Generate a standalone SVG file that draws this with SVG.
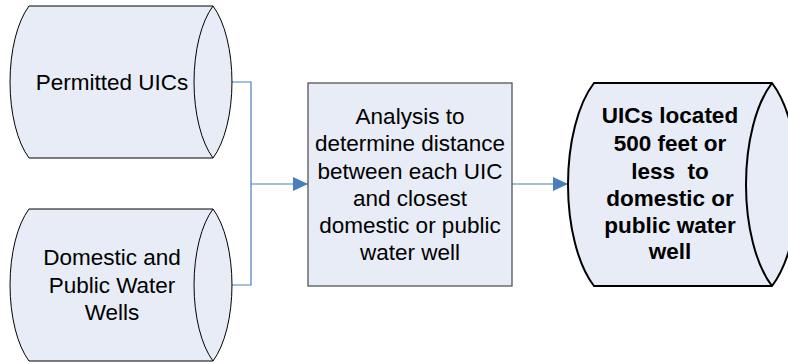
<svg xmlns="http://www.w3.org/2000/svg" width="788" height="362" viewBox="0 0 788 362">
<style>
.cyl{fill:#E7ECF6;stroke:#000;stroke-width:1}
.cylb{fill:#E7ECF6;stroke:#000;stroke-width:2}
.box{fill:#E7ECF6;stroke:#555;stroke-width:1.3}
.conn{fill:none;stroke:#4A7EBB;stroke-width:1.2}
.t{font-family:"Liberation Sans",Arial,sans-serif;font-size:22.5px;fill:#000;text-anchor:middle}
.tb{font-family:"Liberation Sans",Arial,sans-serif;font-size:22.5px;font-weight:bold;fill:#000;text-anchor:middle}
</style>
<defs>
<marker id="ah" markerWidth="16" markerHeight="14" refX="15" refY="7" orient="auto" markerUnits="userSpaceOnUse">
<path d="M0,0 L15,7 L0,14 Z" fill="#4A7EBB"/>
</marker>
</defs>
<rect width="788" height="362" fill="#fff"/>
<g id="connectors">
<path class="conn" d="M213,82 H251 V285 H213"/>
<path class="conn" d="M251,184 H308" marker-end="url(#ah)"/>
<path class="conn" d="M512,184 H568" marker-end="url(#ah)"/>
</g>
<g id="permitted">
<path class="cyl" d="M29,6 H213 A38,87.8 0 0 1 213,158 H29 A38,87.8 0 0 1 29,6 Z"/>
<path class="cyl" d="M213,6 A38,87.8 0 0 0 213,158"/>
<text class="t" x="112" y="90">Permitted UICs</text>
</g>
<g id="wells">
<path class="cyl" d="M29,209 H213 A38,87.8 0 0 1 213,361 H29 A38,87.8 0 0 1 29,209 Z"/>
<path class="cyl" d="M213,209 A38,87.8 0 0 0 213,361"/>
<text class="t" x="112" y="265">Domestic and</text>
<text class="t" x="112" y="293">Public Water</text>
<text class="t" x="112" y="320">Wells</text>
</g>
<g id="analysis">
<rect class="box" x="308" y="83" width="204" height="203"/>
<text class="t" x="410" y="124">Analysis to</text>
<text class="t" x="410" y="151">determine distance</text>
<text class="t" x="410" y="179">between each UIC</text>
<text class="t" x="410" y="206">and closest</text>
<text class="t" x="410" y="233">domestic or public</text>
<text class="t" x="410" y="260">water well</text>
</g>
<g id="result">
<path class="cylb" d="M594,83 H772 A52,117.2 0 0 1 772,286 H594 A52,117.2 0 0 1 594,83 Z"/>
<path class="cylb" d="M772,83 A52,117.2 0 0 0 772,286"/>
<text class="tb" x="670" y="123">UICs located</text>
<text class="tb" x="670" y="151">500 feet or</text>
<text class="tb" x="670" y="179" xml:space="preserve">less  to</text>
<text class="tb" x="670" y="206">domestic or</text>
<text class="tb" x="670" y="233">public water</text>
<text class="tb" x="670" y="259">well</text>
</g>
</svg>
